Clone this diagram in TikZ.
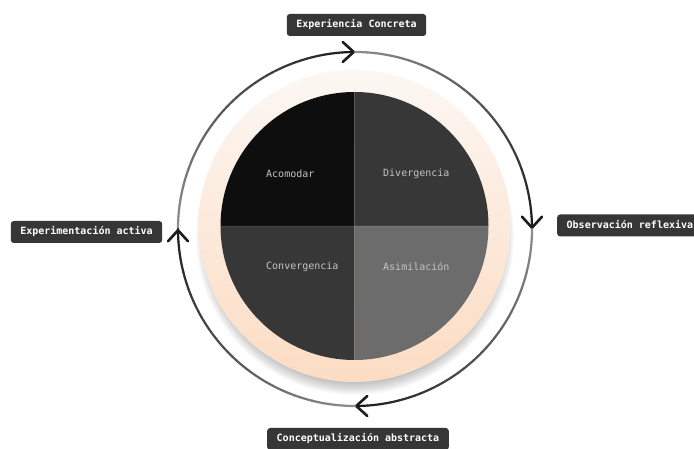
\documentclass[tikz,border=0pt]{standalone}
\usepackage{fontspec}
\setmonofont{DejaVu Sans Mono}
\usetikzlibrary{arrows.meta}
\definecolor{labelgray}{HTML}{363636}
\definecolor{peachlight}{HTML}{FCF7F3}
\definecolor{peachdark}{HTML}{FCDCC3}
\definecolor{quadblack}{HTML}{0E0E0E}
\definecolor{quaddark}{HTML}{373737}
\definecolor{quadmid}{HTML}{6C6C6C}
\definecolor{quadtext}{HTML}{C4C4C4}
\definecolor{arcstart}{HTML}{8E8E8E}
\definecolor{arcend}{HTML}{1C1C1C}
\tikzset{
  stagelabel/.style={fill=labelgray, text=white, rounded corners=3pt,
    font=\fontsize{10}{12}\selectfont\ttfamily\bfseries,
    inner xsep=9.5pt, inner ysep=0pt, minimum height=22pt,
    text height=7.5pt, text depth=2pt},
  quadlabel/.style={anchor=west, text=quadtext, inner sep=0pt,
    font=\fontsize{10}{12}\selectfont\ttfamily},
  cyclearc/.style={line width=2.2pt, line cap=round},
  cycletip/.style={-{Straight Barb[length=11pt,width=20pt,line width=2.6pt,round]},
    line width=2.2pt, arcend},
}
\begin{document}
\begin{tikzpicture}[x=1pt,y=1pt]
                    \useasboundingbox (0,0) rectangle (694,449);
                    \fill [white] (0,0) rectangle (694,449);%
                    \coordinate (cyclecenter) at (355,220);
                    \coordinate (piecenter) at (354.5,223);

                    % Drawing shadow of the ring
                    \foreach \k in {1,...,8}
                      \fill [black, opacity=0.03] (355,213) circle (146+\k*1.6);%

                    % Drawing ring
                    \shade [top color=peachlight, bottom color=peachdark] (piecenter) circle (156);%

                    % Drawing quadrants
                    \fill [quadblack] (piecenter) -- ++(90:134) arc [start angle=90, end angle=180, radius=134] -- cycle;%
                    \fill [quaddark] (piecenter) -- ++(0:134) arc [start angle=0, end angle=90, radius=134] -- cycle;%
                    \fill [quaddark] (piecenter) -- ++(180:134) arc [start angle=180, end angle=270, radius=134] -- cycle;%
                    \fill [quadmid] (piecenter) -- ++(270:134) arc [start angle=270, end angle=360, radius=134] -- cycle;%
                    \draw [line width=0.8pt, white, opacity=0.08] (piecenter) ++(0,134) -- ++(0,-268);%
                    \draw [line width=0.8pt, white, opacity=0.08] (piecenter) ++(-134,0) -- ++(268,0);%

                    % Marking quadrant labels
                    \node [quadlabel] (acomodar) at (266,275) {Acomodar};%
                    \node [quadlabel] (divergencia) at (383,275) {Divergencia};%
                    \node [quadlabel] (convergencia) at (266,182) {Convergencia};%
                    \node [quadlabel] (asimilacion) at (383,182) {Asimilación};%

                    % Drawing cycle arcs
                    \foreach \start in {180,90,0,-90}{
                      \foreach \i in {0,...,44}{
                        \pgfmathsetmacro{\mix}{100-\i*100/44}
                        \draw [cyclearc, color=arcstart!\mix!arcend] (cyclecenter) ++(\start-2*\i:177)
                          arc [start angle=\start-2*\i, end angle=\start-2*\i-2, radius=177];%
                      }
                      % Drawing arrow
                      \draw [cycletip] (cyclecenter) ++(\start-90:177) ++(\start:4) -- ++(\start-180:4);%
                    }

                    % Marking stage labels
                    \node [stagelabel] (experiencia) at (356.5,424) {Experiencia Concreta};%
                    \node [stagelabel, anchor=west] (observacion) at (557,223.5) {Observación reflexiva};%
                    \node [stagelabel] (conceptualizacion) at (358,10) {Conceptualización abstracta};%
                    \node [stagelabel] (experimentacion) at (86.5,217) {Experimentación activa};%
\end{tikzpicture}
\end{document}
